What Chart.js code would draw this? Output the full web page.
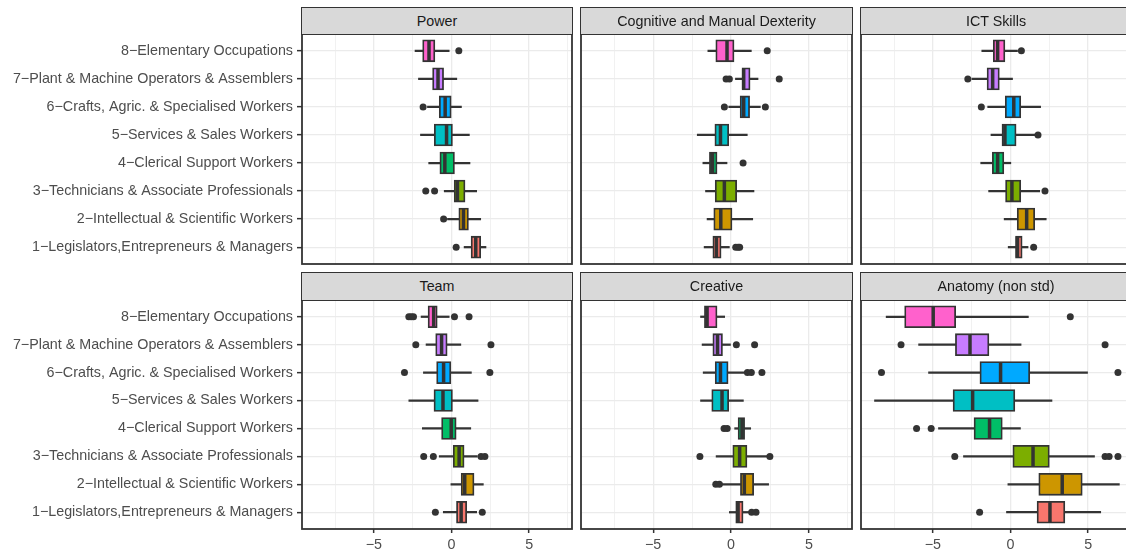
<!DOCTYPE html>
<html><head><meta charset="utf-8">
<script src="https://cdn.jsdelivr.net/npm/chart.js@4/dist/chart.umd.min.js"></script>
<style>
html,body{margin:0;padding:0;background:#fff;overflow:hidden;width:1126px;height:553px;position:relative;}
canvas{position:absolute;}
.strip{position:absolute;box-sizing:border-box;background:#D9D9D9;border:1.8px solid #333;color:#1A1A1A;font:14.3px "Liberation Sans",Arial,Helvetica,sans-serif;display:flex;align-items:center;justify-content:center;z-index:2;}
</style></head><body>
<script>
// ---------- DATA ----------
const categories = [
  "8\u2212Elementary Occupations",
  "7\u2212Plant & Machine Operators & Assemblers",
  "6\u2212Crafts, Agric. & Specialised Workers",
  "5\u2212Services & Sales Workers",
  "4\u2212Clerical Support Workers",
  "3\u2212Technicians & Associate Professionals",
  "2\u2212Intellectual & Scientific Workers",
  "1\u2212Legislators,Entrepreneurs & Managers"
];
const panelTitles = ["Power", "Cognitive and Manual Dexterity", "ICT Skills", "Team", "Creative", "Anatomy (non std)"];
const xTickValues = [-5, 0, 5];
const xGridValues = [-7.5, -5, -2.5, 0, 2.5, 5, 7.5];

// [lower whisker, Q1, median, Q3, upper whisker] per category (top to bottom)
const powerStats = [
  [-2.35, -1.86, -1.45, -1.07, -0.15],
  [-2.13, -1.22, -0.87, -0.51, 0.34],
  [-1.55, -0.79, -0.41, -0.02, 0.64],
  [-2.00, -1.11, -0.32, 0.06, 1.15],
  [-1.47, -0.75, -0.43, 0.19, 1.19],
  [-0.47, 0.17, 0.38, 0.87, 1.62],
  [-0.26, 0.47, 0.77, 1.09, 1.88],
  [0.81, 1.26, 1.56, 1.88, 2.22]
];
const powerOutliers = [[0.47], [], [-1.83], [], [], [-1.66, -1.09], [-0.51], [0.30]];

const cognitiveStats = [
  [-1.49, -0.98, -0.26, 0.19, 1.30],
  [0.28, 0.70, 0.81, 1.22, 1.73],
  [-0.15, 0.58, 0.81, 1.19, 1.88],
  [-2.17, -1.04, -0.68, -0.15, 1.04],
  [-1.81, -1.39, -1.19, -0.90, -0.26],
  [-1.64, -1.02, -0.43, 0.36, 1.47],
  [-1.54, -1.11, -0.66, 0.06, 1.39],
  [-1.73, -1.17, -0.94, -0.64, -0.11]
];
const cognitiveOutliers = [[2.32], [-0.32, -0.11, 3.09], [-0.43, 2.20], [], [0.77], [], [], [0.30, 0.45, 0.55]];

const ictStats = [
  [-1.85, -1.11, -0.83, -0.36, 0.45],
  [-2.49, -1.51, -1.15, -0.72, 0.13],
  [-1.47, -0.34, 0.21, 0.66, 1.94],
  [-1.26, -0.55, -0.36, 0.36, 1.66],
  [-1.92, -1.17, -0.83, -0.43, 0.02],
  [-1.41, -0.32, 0.09, 0.66, 1.88],
  [-0.41, 0.43, 1.04, 1.56, 2.30],
  [-0.15, 0.32, 0.45, 0.75, 1.13]
];
const ictOutliers = [[0.70], [-2.75], [-1.88], [1.77], [], [2.22], [], [1.49]];

const teamStats = [
  [-1.96, -1.51, -1.15, -0.92, -0.15],
  [-1.64, -1.02, -0.64, -0.28, 0.60],
  [-1.81, -0.96, -0.51, 0.00, 1.28],
  [-2.75, -1.13, -0.55, 0.06, 1.71],
  [-1.88, -0.64, -0.02, 0.30, 1.24],
  [-0.79, 0.11, 0.49, 0.81, 1.66],
  [-0.04, 0.62, 0.85, 1.45, 2.05],
  [-0.53, 0.32, 0.62, 0.98, 1.62]
];
const teamOutliers = [[-2.75, -2.6, -2.45, 0.19, 1.13], [-2.30, 2.54], [-3.03, 2.47], [], [], [-1.79, -1.17, 1.90, 2.15], [], [-1.04, 1.98]];

const creativeStats = [
  [-1.96, -1.71, -1.54, -0.90, -0.41],
  [-1.86, -1.17, -0.87, -0.55, -0.04],
  [-1.79, -1.02, -0.68, -0.19, 0.92],
  [-1.96, -1.24, -0.58, -0.15, 0.79],
  [0.23, 0.45, 0.70, 0.87, 1.26],
  [-0.96, 0.11, 0.55, 1.02, 2.30],
  [-0.58, 0.60, 0.85, 1.45, 2.41],
  [-0.11, 0.30, 0.45, 0.77, 1.24]
];
const creativeOutliers = [[], [0.34, 1.51], [1.05, 1.30, 1.98], [], [-0.45, -0.25], [-2.00, 2.49], [-0.98, -0.75], [1.32, 1.60]];

const anatomyStats = [
  [-8.01, -6.82, -4.98, -3.53, 1.15],
  [-5.92, -3.55, -2.61, -1.39, 0.68],
  [-5.28, -1.97, -0.64, 1.24, 4.96],
  [-8.76, -3.70, -2.44, 0.28, 2.67],
  [-4.64, -2.35, -1.35, -0.53, 0.64],
  [-3.03, 0.15, 1.45, 2.50, 5.41],
  [-0.17, 1.82, 3.33, 4.62, 7.01],
  [-0.26, 1.71, 2.54, 3.50, 5.81]
];
const anatomyOutliers = [[3.85], [-7.05, 6.09], [-8.31, 6.92], [], [-6.05, -5.11], [-3.59, 6.09, 6.35, 6.92], [], [-1.99]];

// ---------- STYLE / LAYOUT ----------
const boxColors = ["#FF61CC", "#C77CFF", "#00A9FF", "#00BFC4", "#00BE67", "#7CAE00", "#CD9600", "#F8766D"];
const xMin = -9.63, xMax = 7.76;
const cols = [{l: 302, r: 572}, {l: 581, r: 852}, {l: 861, r: 1131}];
const rows = [{t: 34, b: 264, st: 7}, {t: 300, b: 529, st: 272}];
const P = 3;

Chart.defaults.font.family = '"Liberation Sans", Arial, Helvetica, sans-serif';
Chart.defaults.font.size = 14.3;

const panelBorder = {
  id: 'panelBorder',
  afterDraw(chart) {
    const {ctx, chartArea: a} = chart;
    ctx.save();
    ctx.strokeStyle = '#333';
    ctx.lineWidth = 1.8;
    ctx.strokeRect(a.left, a.top, a.right - a.left, a.bottom - a.top);
    ctx.restore();
  }
};

const fmt = v => (v < 0 ? '\u2212' + Math.abs(v) : String(v));

const panels = [
  [powerStats, powerOutliers], [cognitiveStats, cognitiveOutliers], [ictStats, ictOutliers],
  [teamStats, teamOutliers], [creativeStats, creativeOutliers], [anatomyStats, anatomyOutliers]
];

panels.forEach(([stats, outliers], k) => {
  const r = Math.floor(k / 3), c = k % 3;
  const isLeft = c === 0, isBottom = r === 1;
  const yWidth = isLeft ? 302 : 0;
  const xHeight = isBottom ? 24 : 0;
  const cl = isLeft ? 0 : cols[c].l - P;
  const ct = rows[r].t - P;
  const cw = cols[c].r - cl + P;
  const ch = isBottom ? (553 - ct) : (rows[r].b - rows[r].t + 2 * P);

  const canvas = document.createElement('canvas');
  canvas.width = cw; canvas.height = ch;
  canvas.style.left = cl + 'px'; canvas.style.top = ct + 'px';
  canvas.style.width = cw + 'px'; canvas.style.height = ch + 'px';
  document.body.appendChild(canvas);

  const strip = document.createElement('div');
  strip.className = 'strip';
  strip.textContent = panelTitles[k];
  strip.style.left = (cols[c].l - 0.9) + 'px';
  strip.style.top = rows[r].st + 'px';
  strip.style.width = (cols[c].r - cols[c].l + 1.8) + 'px';
  strip.style.height = (rows[r].t + 0.9 - rows[r].st) + 'px';
  document.body.appendChild(strip);

  const n = categories.length;
  const pos = categories.map((_, i) => n - i);
  const whiskerData = stats.map((s, i) => ({x: [s[0], s[4]], y: pos[i]}));
  const boxData = stats.map((s, i) => ({x: [s[1], s[3]], y: pos[i]}));
  const medData = stats.map((s, i) => ({x: s[2], y: pos[i]}));
  const outData = [];
  outliers.forEach((arr, i) => arr.forEach(v => outData.push({x: v, y: pos[i]})));

  new Chart(canvas, {
    type: 'bar',
    data: {
      datasets: [
        {type: 'bar', indexAxis: 'y', data: whiskerData, backgroundColor: '#333', borderWidth: 0,
         barThickness: 1.6, grouped: false, order: 4},
        {type: 'bar', indexAxis: 'y', data: boxData, backgroundColor: boxColors, borderColor: '#333',
         borderWidth: 1.8, borderSkipped: false, barThickness: 22, grouped: false, order: 3},
        {type: 'scatter', indexAxis: 'x', data: medData, pointStyle: 'line', pointRotation: 90, pointRadius: 10.1,
         pointBorderColor: '#333', pointBorderWidth: 3.5, showLine: false, order: 2},
        {type: 'scatter', indexAxis: 'x', data: outData, pointStyle: 'circle', pointRadius: 3.5,
         pointBackgroundColor: '#333', pointBorderWidth: 0, showLine: false, order: 1}
      ]
    },
    options: {
      indexAxis: 'y',
      responsive: false,
      animation: false,
      events: [],
      layout: {autoPadding: false, padding: {left: isLeft ? 0 : P, right: P, top: P, bottom: isBottom ? 0 : P}},
      plugins: {legend: {display: false}, tooltip: {enabled: false}, title: {display: false}},
      scales: {
        x: {
          type: 'linear', position: 'bottom', min: xMin, max: xMax, offset: false,
          afterBuildTicks: ax => { ax.ticks = xGridValues.map(v => ({value: v})); },
          afterFit: ax => { ax.height = xHeight; ax.paddingLeft = 0; ax.paddingRight = 0; },
          border: {display: false},
          grid: {
            offset: false,
            color: '#EBEBEB',
            lineWidth: ctx => (ctx.tick && xTickValues.includes(ctx.tick.value)) ? 1.3 : 0.7,
            drawTicks: isBottom, tickLength: 4, tickWidth: 1.5,
            tickColor: ctx => (ctx.tick && xTickValues.includes(ctx.tick.value)) ? '#333' : 'rgba(0,0,0,0)'
          },
          ticks: {
            display: isBottom, autoSkip: false, maxRotation: 0, padding: 3, color: '#4D4D4D',
            callback: v => xTickValues.includes(v) ? fmt(v) : ''
          }
        },
        y: {
          type: 'linear', position: 'left', min: 0.4, max: 8.6, offset: false,
          afterBuildTicks: ax => { ax.ticks = pos.map(v => ({value: v})); },
          afterFit: ax => { ax.width = yWidth; ax.paddingTop = 0; ax.paddingBottom = 0; },
          border: {display: false},
          grid: {offset: false, color: '#EBEBEB', lineWidth: 1.3, drawTicks: isLeft, tickLength: 5, tickWidth: 1.5, tickColor: '#333'},
          ticks: {
            display: isLeft, autoSkip: false, padding: 4, color: '#4D4D4D',
            callback: v => categories[n - v]
          }
        }
      }
    },
    plugins: [panelBorder]
  });
});
</script>
</body></html>
